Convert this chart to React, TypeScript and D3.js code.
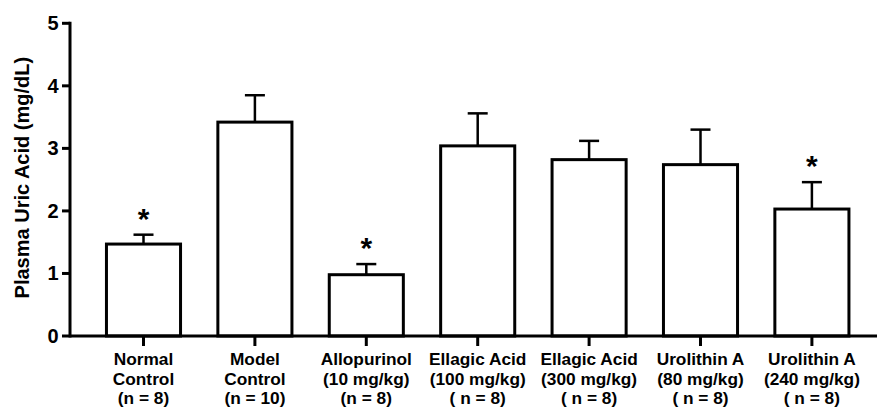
import React from "react";
import * as d3 from "d3";

const categories = [
  ["Normal", "Control", "(n = 8)"],
  ["Model", "Control", "(n = 10)"],
  ["Allopurinol", "(10 mg/kg)", "(n = 8)"],
  ["Ellagic Acid", "(100 mg/kg)", "( n = 8)"],
  ["Ellagic Acid", "(300 mg/kg)", "( n = 8)"],
  ["Urolithin A", "(80 mg/kg)", "( n = 8)"],
  ["Urolithin A", "(240 mg/kg)", "( n = 8)"],
];
const means = [1.47, 3.42, 0.98, 3.04, 2.82, 2.74, 2.03];
const errors = [0.15, 0.43, 0.17, 0.52, 0.3, 0.56, 0.43];
const significant = [true, false, true, false, false, false, true];
const yTicks = [0, 1, 2, 3, 4, 5];

const W = 877;
const H = 407;
const FONT = "'Liberation Sans', Arial, Helvetica, sans-serif";

export default function App() {
  const ids = categories.map((_, i) => String(i));
  const x = d3
    .scaleBand<string>()
    .domain(ids)
    .range([87.8, 867.6])
    .paddingInner(0.335)
    .paddingOuter(0.1675);
  const y = d3.scaleLinear().domain([0, 5]).range([336, 23.3]);
  const axisX = 70;
  const capHalf = 10;

  return (
    <svg
      width={W}
      height={H}
      style={{ position: "absolute", left: 0, top: 0, background: "#fff" }}
      fontFamily={FONT}
    >
      {/* bars */}
      {means.map((m, i) => {
        const x0 = x(String(i))!;
        const bw = x.bandwidth();
        const cx = x0 + bw / 2;
        const top = y(m);
        const capY = y(m + errors[i]);
        return (
          <g key={i}>
            <rect
              x={x0}
              y={top}
              width={bw}
              height={y(0) - top}
              fill="#fff"
              stroke="#000"
              strokeWidth={3}
            />
            <line x1={cx} x2={cx} y1={top} y2={capY} stroke="#000" strokeWidth={2.5} />
            <line
              x1={cx - capHalf}
              x2={cx + capHalf}
              y1={capY}
              y2={capY}
              stroke="#000"
              strokeWidth={2.5}
            />
            {significant[i] && (
              <text
                x={cx}
                y={capY - 6}
                textAnchor="middle"
                fontSize={30}
                fontWeight="bold"
              >
                *
              </text>
            )}
          </g>
        );
      })}

      {/* x axis */}
      <line x1={axisX} x2={W} y1={y(0)} y2={y(0)} stroke="#000" strokeWidth={3} />
      {categories.map((lines, i) => {
        const cx = x(String(i))! + x.bandwidth() / 2;
        return (
          <g key={i}>
            <line x1={cx} x2={cx} y1={y(0)} y2={y(0) + 10} stroke="#000" strokeWidth={3} />
            {lines.map((t, j) => (
              <text
                key={j}
                x={cx}
                y={365 + j * 19.5}
                textAnchor="middle"
                fontSize={17.3}
                fontWeight="bold"
              >
                {t}
              </text>
            ))}
          </g>
        );
      })}

      {/* y axis */}
      <line
        x1={axisX}
        x2={axisX}
        y1={y(0) + 1.5}
        y2={y(5) - 1.5}
        stroke="#000"
        strokeWidth={3}
      />
      {yTicks.map((t) => (
        <g key={t}>
          <line x1={axisX - 8} x2={axisX} y1={y(t)} y2={y(t)} stroke="#000" strokeWidth={3} />
          <text
            x={58.5}
            y={y(t)}
            dy="0.35em"
            textAnchor="end"
            fontSize={20}
            fontWeight="bold"
          >
            {t}
          </text>
        </g>
      ))}
      <text
        transform={`translate(29,${(y(0) + y(5)) / 2 - 2}) rotate(-90)`}
        textAnchor="middle"
        fontSize={20}
        fontWeight="bold"
      >
        Plasma Uric Acid (mg/dL)
      </text>
    </svg>
  );
}
